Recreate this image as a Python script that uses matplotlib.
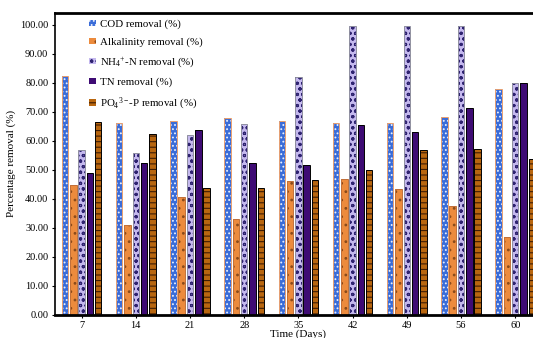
'''
Percentage removal of COD, alkalinity, NH4-N, TN and PO4-P over time
'''

import numpy as np
import matplotlib
matplotlib.use('Agg')
import matplotlib.pyplot as plt

plt.rcParams.update({
    'font.family': 'Liberation Serif',
    'mathtext.fontset': 'custom',
    'mathtext.rm': 'Liberation Serif',
    'mathtext.it': 'Liberation Serif:italic',
    'hatch.linewidth': 0.8,
})

days = ['7', '14', '21', '28', '35', '42', '49', '56', '60']
cod = [82.3, 66.1, 66.9, 68.0, 67.0, 66.1, 66.0, 68.2, 78.0]
alkalinity = [44.6, 31.0, 40.6, 33.0, 46.2, 46.9, 43.3, 37.6, 26.9]
nh4 = [56.9, 55.7, 62.1, 65.9, 82.0, 99.8, 99.8, 99.8, 79.9]
tn = [48.7, 52.3, 63.6, 52.3, 51.5, 65.6, 62.9, 71.3, 80.0]
po4 = [66.4, 62.4, 43.7, 43.7, 46.5, 49.9, 56.9, 57.0, 53.7]

series = [
    (cod, 'COD removal (%)', '#3a6cd8', '#e8f0ff', '....', '#e9a070'),
    (alkalinity, 'Alkalinity removal (%)', '#ec8b3d', '#8a4a1a', '..', '#c0703a'),
    (nh4, r'NH$_4$$^{+}$-N removal (%)', '#c4b8ee', '#2e2270', 'ooo', '#9090a0'),
    (tn, 'TN removal (%)', '#3e0b74', '#3e0b74', '', 'black'),
    (po4, r'PO$_4$$^{3-}$-P removal (%)', '#b8660f', '#3e1c04', '---', 'black'),
]

fig = plt.figure(figsize=(5.33, 3.38), dpi=100)
# axes run a bit past the right edge, the original picture is cropped there
ax = fig.add_axes([54.5/533, 23.5/338, 9*54.2/533, 302/338])

x = np.arange(len(days))
pitch = 0.153
width = 0.12
for k, (vals, label, fc, hc, hatch, ec) in enumerate(series):
    pos = x + (k - 2) * pitch
    ax.bar(pos, vals, width, color=fc, edgecolor=hc, hatch=hatch,
           linewidth=0, label=label)
    ax.bar(pos, vals, width, facecolor='none', edgecolor=ec, linewidth=0.7)

ax.set_xlim(-0.5, 8.5)
ax.set_ylim(0, 104.3)
ax.set_xticks(x)
ax.set_xticklabels(days, fontsize=7.5)
ax.set_yticks(np.arange(0, 101, 10))
ax.set_yticklabels(['%.2f' % v for v in np.arange(0, 101, 10)], fontsize=7.5)
ax.tick_params(axis='both', length=2.5, width=0.8, pad=2)

ax.spines['top'].set_linewidth(2.0)
ax.spines['bottom'].set_linewidth(2.0)
ax.spines['left'].set_linewidth(1.2)
ax.spines['right'].set_visible(False)

ax.set_xlabel('Time (Days)', fontsize=8, labelpad=0)
ax.set_ylabel('Percentage removal (%)', fontsize=8, labelpad=3)

ax.legend(loc='upper left', bbox_to_anchor=(84/533, 1 - 14/338),
          bbox_transform=fig.transFigure, frameon=False, fontsize=7.8,
          handlelength=0.6, handleheight=0.6, handletextpad=0.35,
          labelspacing=0.78, borderpad=0)

fig.savefig('out.png', dpi=100)
